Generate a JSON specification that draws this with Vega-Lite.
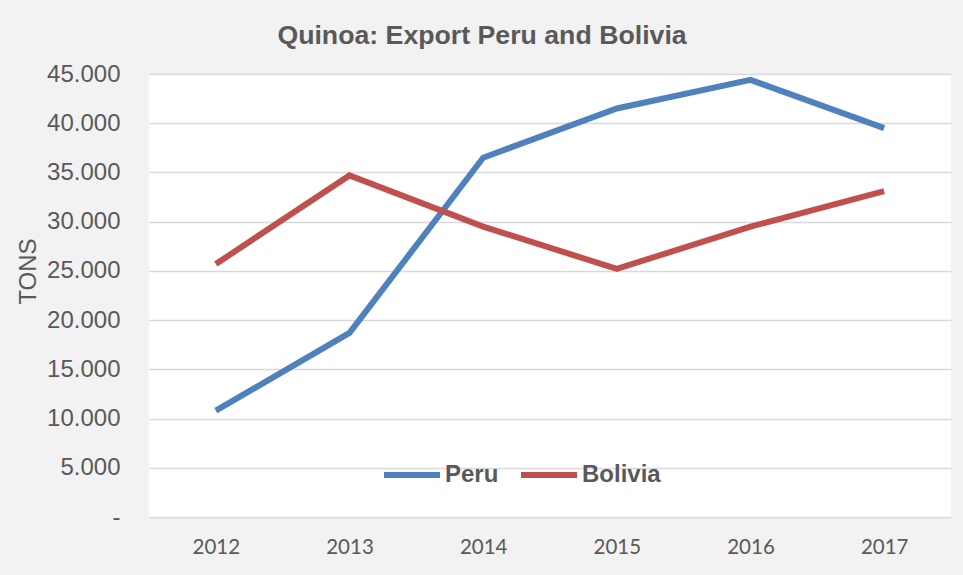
{
  "$schema": "https://vega.github.io/schema/vega-lite/v6.json",
  "width": 802,
  "height": 443,
  "autosize": {"type": "none"},
  "padding": {"left": 149, "top": 74, "right": 12, "bottom": 58},
  "background": "#f2f2f2",
  "title": {
    "text": "Quinoa: Export Peru and Bolivia",
    "font": "Liberation Sans",
    "fontSize": 26.7,
    "fontWeight": "bold",
    "color": "#595959",
    "anchor": "middle",
    "dx": -68,
    "offset": 12
  },
  "data": {
    "values": [
      {"year": "2012", "country": "Peru", "tons": 10800},
      {"year": "2013", "country": "Peru", "tons": 18700},
      {"year": "2014", "country": "Peru", "tons": 36500},
      {"year": "2015", "country": "Peru", "tons": 41500},
      {"year": "2016", "country": "Peru", "tons": 44400},
      {"year": "2017", "country": "Peru", "tons": 39500},
      {"year": "2012", "country": "Bolivia", "tons": 25700},
      {"year": "2013", "country": "Bolivia", "tons": 34700},
      {"year": "2014", "country": "Bolivia", "tons": 29500},
      {"year": "2015", "country": "Bolivia", "tons": 25200},
      {"year": "2016", "country": "Bolivia", "tons": 29500},
      {"year": "2017", "country": "Bolivia", "tons": 33100}
    ]
  },
  "mark": {"type": "line", "strokeWidth": 6, "strokeCap": "butt", "strokeJoin": "miter"},
  "encoding": {
    "x": {
      "field": "year",
      "type": "ordinal",
      "scale": {"type": "point", "padding": 0.5},
      "axis": {
        "title": null,
        "labelAngle": 0,
        "labelFont": "Lato",
        "labelFontSize": 20.5,
        "labelColor": "#595959",
        "labelPadding": 20,
        "ticks": false,
        "domain": false,
        "grid": false
      }
    },
    "y": {
      "field": "tons",
      "type": "quantitative",
      "scale": {"domain": [0, 45000], "nice": false},
      "axis": {
        "title": "TONS",
        "titleFont": "Liberation Sans",
        "titleFontSize": 24,
        "titleFontWeight": "normal",
        "titleColor": "#595959",
        "titleX": -121,
        "titleY": 197,
        "titleBaseline": "middle",
        "values": [0, 5000, 10000, 15000, 20000, 25000, 30000, 35000, 40000, 45000],
        "labelExpr": "datum.value == 0 ? '-' : replace(format(datum.value, ','), ',', '.')",
        "labelFont": "Liberation Sans",
        "labelFontSize": 24,
        "labelColor": "#595959",
        "labelPadding": 29,
        "ticks": false,
        "domain": false,
        "grid": true,
        "gridColor": "#d9d9d9",
        "gridWidth": 1.5
      }
    },
    "color": {
      "field": "country",
      "type": "nominal",
      "scale": {"domain": ["Peru", "Bolivia"], "range": ["#4f81bd", "#c0504d"]},
      "legend": {
        "title": null,
        "orient": "none",
        "direction": "horizontal",
        "legendX": 232,
        "legendY": 370,
        "symbolType": "stroke",
        "symbolSize": 3136,
        "symbolStrokeWidth": 6,
        "labelFont": "Liberation Sans",
        "labelFontSize": 24,
        "labelFontWeight": "bold",
        "labelColor": "#595959",
        "labelOffset": 2,
        "columnPadding": 10
      }
    }
  },
  "config": {
    "view": {"fill": "white", "stroke": null}
  }
}
